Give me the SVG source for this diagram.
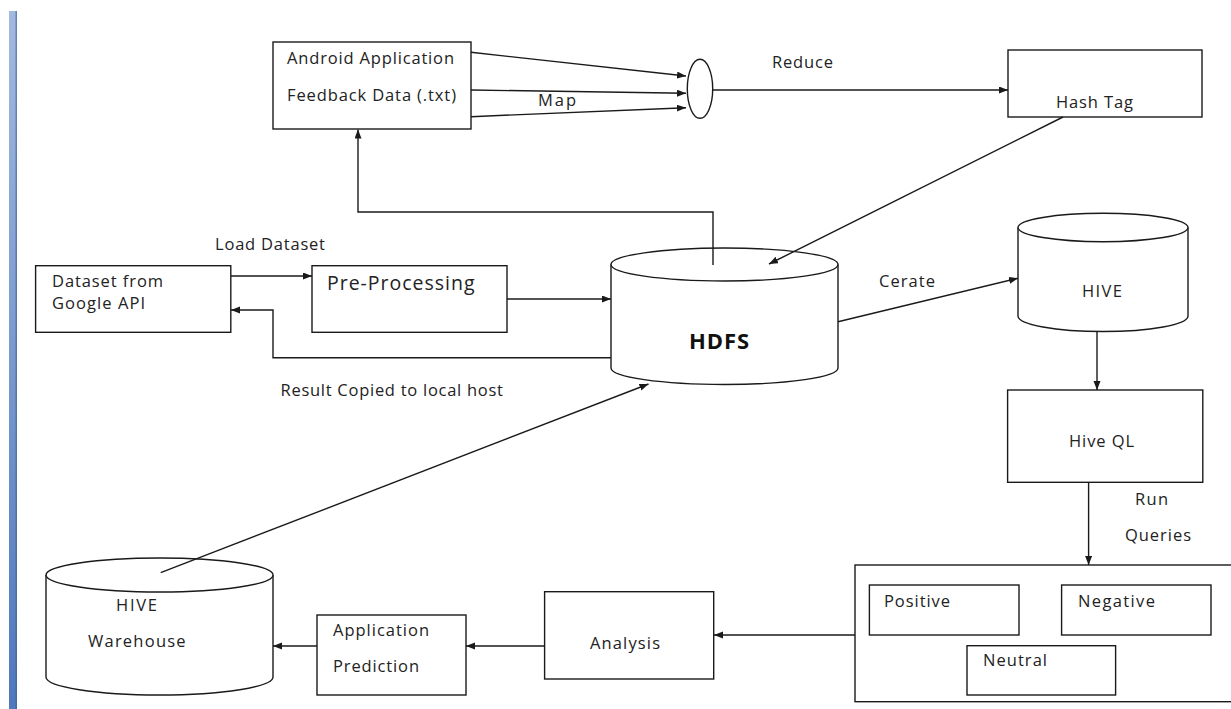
<svg xmlns="http://www.w3.org/2000/svg" width="1231" height="709" viewBox="0 0 1231 709">
<defs>
<linearGradient id="bar" x1="0" y1="0" x2="0" y2="1">
<stop offset="0" stop-color="#a3b9df"/>
<stop offset="1" stop-color="#4f78bd"/>
</linearGradient>
<marker id="arr" markerWidth="10" markerHeight="8" refX="9" refY="3.5" orient="auto" markerUnits="userSpaceOnUse">
<path d="M0,0 L9,3.5 L0,7 z" fill="#1a1a1a"/>
</marker>
<style>
.box{fill:#fff;stroke:#1a1a1a;stroke-width:1.4}
.cyl{fill:#fff;stroke:#1a1a1a;stroke-width:1.4}
.t{font-family:"Open Sans","Liberation Sans",sans-serif;font-size:16.5px;fill:#222}
.big{font-size:19.5px}
.bold{font-weight:bold;font-size:22px;fill:#111}
.c{fill:none;stroke:#1a1a1a;stroke-width:1.4}
.ca{fill:none;stroke:#1a1a1a;stroke-width:1.4;marker-end:url(#arr)}
</style>
</defs>
<rect width="1231" height="709" fill="#fff"/>
<rect x="9" y="11" width="8" height="698" fill="url(#bar)"/>
<rect x="15.5" y="11" width="1.5" height="698" fill="#3f5f96" opacity="0.6"/>

<g id="android">
<rect class="box" x="273" y="42" width="198" height="87"/>
<text class="t" x="287" y="63.5" textLength="167">Android Application</text>
<text class="t" x="287" y="100.5" textLength="169">Feedback Data (.txt)</text>
</g>
<g id="mapreduce">
<ellipse class="cyl" cx="700" cy="88.8" rx="12.7" ry="29.5"/>
<text class="t" x="538" y="105.5" textLength="38">Map</text>
<text class="t" x="772" y="67.5" textLength="61">Reduce</text>
</g>
<g id="hashtag">
<rect class="box" x="1008" y="50" width="194" height="67"/>
<text class="t" x="1056" y="107.5" textLength="77">Hash Tag</text>
</g>
<g id="dataset">
<rect class="box" x="35.6" y="265.7" width="195.2" height="66.6"/>
<text class="t" x="52" y="287.2" textLength="111">Dataset from</text>
<text class="t" x="52" y="308.8" textLength="93">Google API</text>
</g>
<g id="load-label"><text class="t" x="215" y="249.5" textLength="110">Load Dataset</text></g>
<g id="preprocessing">
<rect class="box" x="312" y="265.7" width="195" height="66.6"/>
<text class="t big" x="327" y="289.7" textLength="147.5">Pre-Processing</text>
</g>
<g id="hdfs">
<path class="cyl" d="M611,264.5 L611,368 A113.5,16.5 0 0 0 838,368 L838,264.5"/>
<ellipse class="cyl" cx="724.5" cy="264.5" rx="113.5" ry="16.5"/>
<text class="t bold" x="689" y="349.3" textLength="60">HDFS</text>
</g>
<g id="result-label"><text class="t" x="280.5" y="395.5" textLength="222.5">Result Copied to local host</text></g>
<g id="cerate-label"><text class="t" x="879" y="287.2" textLength="56">Cerate</text></g>
<g id="hive">
<path class="cyl" d="M1018,227.5 L1018,316 A85,15.5 0 0 0 1188,316 L1188,227.5"/>
<ellipse class="cyl" cx="1103" cy="227.5" rx="85" ry="14.2"/>
<text class="t" x="1082" y="297.2" textLength="40">HIVE</text>
</g>
<g id="hiveql">
<rect class="box" x="1007.6" y="390" width="195.2" height="92.3"/>
<text class="t" x="1069" y="447.2" textLength="65">Hive QL</text>
</g>
<g id="runqueries-label">
<text class="t" x="1135" y="504.5" textLength="33">Run</text>
<text class="t" x="1125" y="541.2" textLength="66">Queries</text>
</g>
<g id="results">
<rect class="box" x="855" y="565" width="390" height="136.7"/>
<g id="positive">
<rect class="box" x="869.4" y="585" width="149.6" height="50"/>
<text class="t" x="884" y="606.5" textLength="66">Positive</text>
</g>
<g id="negative">
<rect class="box" x="1061.6" y="585" width="149.4" height="50"/>
<text class="t" x="1078" y="606.5" textLength="77">Negative</text>
</g>
<g id="neutral">
<rect class="box" x="967" y="645.7" width="148.6" height="49.3"/>
<text class="t" x="983" y="665.5" textLength="64">Neutral</text>
</g>
</g>
<g id="analysis">
<rect class="box" x="544.6" y="591.7" width="169.1" height="87.3"/>
<text class="t" x="590" y="648.5" textLength="70">Analysis</text>
</g>
<g id="appprediction">
<rect class="box" x="317" y="615" width="149" height="80"/>
<text class="t" x="333" y="636.2" textLength="96">Application</text>
<text class="t" x="333" y="672.2" textLength="86">Prediction</text>
</g>
<g id="warehouse">
<path class="cyl" d="M46,575 L46,677 A113.5,18 0 0 0 273,677 L273,575"/>
<ellipse class="cyl" cx="159.5" cy="575" rx="113.5" ry="17"/>
<text class="t" x="116" y="610.5" textLength="41">HIVE</text>
<text class="t" x="88" y="646.5" textLength="97.6">Warehouse</text>
</g>

<g id="connectors">
<line class="ca" x1="471" y1="52.3" x2="686" y2="76"/>
<line class="ca" x1="471" y1="90" x2="686" y2="93.3"/>
<line class="ca" x1="471" y1="116.7" x2="686" y2="107.7"/>
<line class="ca" x1="712.7" y1="90" x2="1008" y2="90"/>
<line class="ca" x1="1063" y1="117" x2="769" y2="264"/>
<polyline class="ca" points="713,265 713,212 358,212 358,129.5"/>
<line class="ca" x1="231" y1="276" x2="312" y2="276"/>
<line class="ca" x1="507" y1="299" x2="611" y2="299"/>
<polyline class="ca" points="611,357.7 273,357.7 273,310 231,310"/>
<line class="ca" x1="838" y1="321.7" x2="1018" y2="278.3"/>
<line class="ca" x1="1097" y1="332" x2="1097" y2="390"/>
<line class="ca" x1="1088.6" y1="482.3" x2="1088.6" y2="565"/>
<line class="ca" x1="855" y1="635" x2="714" y2="635"/>
<line class="ca" x1="544.6" y1="646" x2="466" y2="646"/>
<line class="ca" x1="317" y1="646" x2="273" y2="646"/>
<line class="ca" x1="160.7" y1="572.7" x2="648.5" y2="384"/>
</g>
</svg>
